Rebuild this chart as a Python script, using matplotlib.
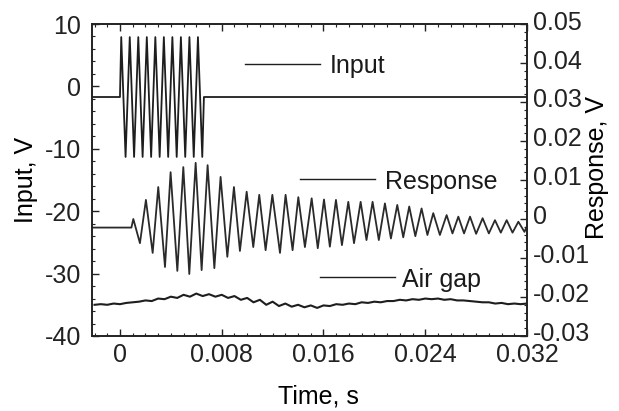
import numpy as np
import matplotlib
matplotlib.use('Agg')
import matplotlib.pyplot as plt
import matplotlib.transforms as mtransforms
from matplotlib.ticker import MultipleLocator

plt.rcParams['font.family'] = ['Liberation Sans', 'DejaVu Sans']
plt.rcParams['axes.unicode_minus'] = False

# ---- data (time in ms) ----
# input: burst of 10 cycles, extrema listed in order
input_t = [-2.2, 0.0, 0.10, 0.44, 0.77, 1.11, 1.44, 1.78, 2.11, 2.45, 2.78, 3.12,
           3.45, 3.79, 4.12, 4.46, 4.79, 5.13, 5.46, 5.80, 6.13, 6.47, 6.60, 32.1]
input_v = [-1.7, -1.7, 7.9, -11.3, 7.9, -11.3, 7.9, -11.3, 7.9, -11.3, 7.9, -11.3,
           7.9, -11.3, 7.9, -11.3, 7.9, -11.3, 7.9, -11.3, 7.9, -11.3, -1.7, -1.7]

# response (right axis): peaks and troughs
resp_t = [-2.2, 0.90, 1.05, 1.57, 2.04, 2.57, 3.01, 3.54, 3.98, 4.51, 4.98, 5.45,
          5.95, 6.42, 6.89, 7.42, 7.91, 8.44, 8.96, 9.43, 9.96, 10.48, 10.95, 11.45,
          11.98, 12.58, 13.02, 13.57, 14.02, 14.54, 15.07, 15.55, 16.04, 16.50, 16.98,
          17.45, 17.95, 18.40, 18.92, 19.38, 19.86, 20.35, 20.83, 21.30, 21.80, 22.27,
          22.74, 23.22, 23.71, 24.17, 24.63, 25.15, 25.68, 26.14, 26.60, 27.05, 27.52,
          28.00, 28.51, 29.00, 29.48, 29.94, 30.40, 30.86, 31.32, 31.80, 32.10]
resp_v = [-0.0022, -0.0022, 0.0000, -0.0062, 0.0049, -0.0087, 0.0082, -0.0123, 0.0120,
          -0.0133, 0.0133, -0.0141, 0.0144, -0.0131, 0.0138, -0.0126, 0.0108, -0.0097,
          0.0082, -0.0082, 0.0070, -0.0072, 0.0062, -0.0080, 0.0062, -0.0087, 0.0062,
          -0.0080, 0.0056, -0.0072, 0.0053, -0.0075, 0.0050, -0.0071, 0.0049, -0.0067,
          0.0044, -0.0062, 0.0044, -0.0054, 0.0044, -0.0054, 0.0040, -0.0050, 0.0036,
          -0.0047, 0.0032, -0.0044, 0.0027, -0.0041, 0.0015, -0.0041, 0.0010, -0.0037,
          0.0006, -0.0037, 0.0006, -0.0038, 0.0002, -0.0037, -0.0003, -0.0035, -0.0003,
          -0.0035, -0.0007, -0.0033, -0.0010]

# air gap (left axis), sampled every 0.5 ms from -2 ms
gap_t = np.arange(-2.0, 32.01, 0.5)
gap_v = [-35.0, -34.9, -35.0, -34.8, -34.9, -34.7, -34.6, -34.5, -34.3, -34.4,
         -34.0, -34.1, -33.7, -33.9, -33.4, -33.7, -33.2, -33.6, -33.3, -33.7,
         -33.4, -33.9, -33.6, -34.2, -33.9, -34.6, -34.2, -35.0, -34.5, -35.2,
         -34.8, -35.3, -35.0, -35.4, -35.1, -35.5, -35.1, -35.2, -34.9, -35.0,
         -34.8, -34.9, -34.6, -34.7, -34.5, -34.6, -34.4, -34.4, -34.2, -34.3,
         -34.1, -34.2, -34.0, -34.1, -34.0, -34.2, -34.1, -34.3, -34.3, -34.4,
         -34.5, -34.6, -34.6, -34.8, -34.7, -34.9, -34.8, -34.9, -34.8]

x_ticks = [0, 0.008, 0.016, 0.024, 0.032]
x_labels = ['0', '0.008', '0.016', '0.024', '0.032']
left_ticks = [10, 0, -10, -20, -30, -40]
right_ticks = [0.05, 0.04, 0.03, 0.02, 0.01, 0, -0.01, -0.02, -0.03]
right_labels = ['0.05', '0.04', '0.03', '0.02', '0.01', '0', '-0.01', '-0.02', '-0.03']

fs = 18
line_col = '#1e1e1e'

fig = plt.figure(figsize=(6.19, 4.11), dpi=100)
ax = fig.add_axes([0.1486, 0.1825, 0.7028, 0.7591])
ax2 = ax.twinx()

ax.plot(np.array(input_t) / 1000, input_v, color=line_col, lw=1.3)
ax.plot(gap_t / 1000, gap_v, color=line_col, lw=1.5)
ax2.plot(np.array(resp_t) / 1000, resp_v, color='#2a2a2a', lw=1.3)

ax.set_xlim(-0.0022, 0.032)
ax.set_ylim(-40, 10)
ax2.set_ylim(-0.03, 0.05)

ax.set_xticks(x_ticks)
ax.set_xticklabels(x_labels)
ax.xaxis.set_minor_locator(MultipleLocator(0.001))
ax.set_yticks(left_ticks)
ax.set_yticklabels([str(v) for v in left_ticks])
ax.yaxis.set_minor_locator(MultipleLocator(2))
ax2.set_yticks(right_ticks)
ax2.set_yticklabels(right_labels)
ax2.yaxis.set_minor_locator(MultipleLocator(0.002))

ax.tick_params(axis='x', which='both', direction='in', top=True, labelsize=fs, pad=5, colors='#222')
ax.tick_params(axis='y', which='both', direction='in', right=False, labelsize=fs, pad=8, colors='#222')
ax2.tick_params(axis='y', which='both', direction='in', labelsize=fs, pad=4, colors='#222')
for a in (ax, ax2):
    a.tick_params(which='major', length=5, width=1)
    a.tick_params(which='minor', length=2.5, width=0.8)
    for s in a.spines.values():
        s.set_linewidth(1.2)
        s.set_color('#222')

# right-hand labels sit a few pixels high in the original
shift = mtransforms.ScaledTranslation(0, 4 / 100, fig.dpi_scale_trans)
for lbl in ax2.get_yticklabels():
    lbl.set_transform(lbl.get_transform() + shift)

ax.set_xlabel('Time, s', fontsize=fs)
ax.xaxis.set_label_coords(0.52, -0.155)
ax.set_ylabel('Input, V', fontsize=fs)
ax.yaxis.set_label_coords(-0.125, 0.5)
ax2.set_ylabel('Response, V', fontsize=fs)
ax2.yaxis.set_label_coords(1.133, 0.54)

# in-plot labels with short line keys
keys = [('Input', 0.872, 0.352, 0.524, 0.547),
        ('Response', 0.503, 0.478, 0.651, 0.674),
        ('Air gap', 0.189, 0.524, 0.697, 0.713)]
for name, yk, x0, x1, xt in keys:
    ax.plot([x0, x1], [yk, yk], transform=ax.transAxes, color=line_col, lw=1.0)
    ax.text(xt, yk - 0.008, name, transform=ax.transAxes, fontsize=fs,
            va='center', ha='left', color='#1a1a1a')

fig.savefig('out.png', dpi=100)
